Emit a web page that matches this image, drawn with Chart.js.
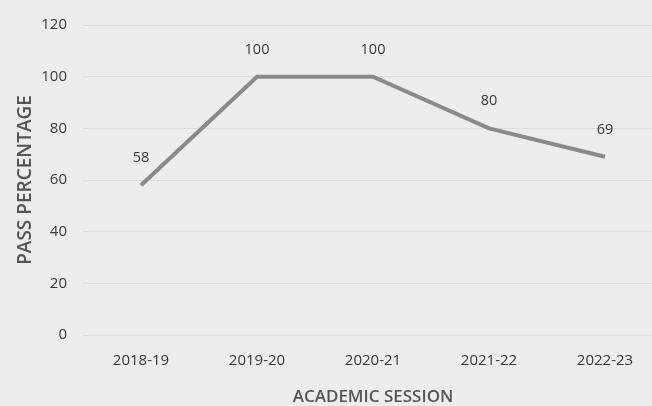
<!DOCTYPE html>
<html lang="en">
<head>
    <meta charset="UTF-8">
    <title>Pass percentage</title>
    <style>
        html, body { margin: 0; padding: 0; background: #ededed; overflow: hidden; }
        #wrap { width: 668px; height: 406px; }
    </style>
</head>
<body>
    <div id="wrap">
        <canvas id="myChart"></canvas>
    </div>

    <script src="https://cdn.jsdelivr.net/npm/chart.js"></script>
    <script>
        // data
        const sessions = ['2018-19', '2019-20', '2020-21', '2021-22', '2022-23'];
        const passPct = [58, 100, 100, 80, 69];
        const yTicks = [0, 20, 40, 60, 80, 100, 120];

        const textFont = "'Open Sans', 'Liberation Sans', sans-serif";

        // draw the value above each point
        const valueLabels = {
            id: 'valueLabels',
            afterDatasetsDraw(chart) {
                const c = chart.ctx;
                const meta = chart.getDatasetMeta(0);
                c.save();
                c.font = '14.5px ' + textFont;
                c.fillStyle = '#3a3a3a';
                c.textAlign = 'center';
                c.textBaseline = 'middle';
                meta.data.forEach(function(pt, i) {
                    c.fillText(passPct[i], pt.x, pt.y - 27);
                });
                c.restore();
            }
        };

        const ctx = document.getElementById('myChart');

        let chart = new Chart(ctx, {
            type: 'line',
            data: {
                labels: sessions,
                datasets: [{
                    label: 'Pass percentage',
                    data: passPct,
                    borderColor: '#8a8a8a',
                    borderWidth: 4,
                    pointRadius: 0,
                    tension: 0,
                    fill: false
                }]
            },
            options: {
                responsive: true,
                maintainAspectRatio: false,
                animation: false,
                layout: { padding: { top: 14, right: 5, left: 10, bottom: 0 } },
                plugins: {
                    legend: { display: false },
                    tooltip: { enabled: false }
                },
                scales: {
                    x: {
                        offset: true,
                        afterFit(axis) { axis.height = 71; },
                        grid: { display: false, drawTicks: false },
                        border: { display: false },
                        ticks: { color: '#3a3a3a', font: { family: textFont, size: 15 }, padding: 17 },
                        title: {
                            display: true,
                            text: 'ACADEMIC SESSION',
                            color: '#555555',
                            font: { family: textFont, size: 17, weight: '600' },
                            padding: { top: 0, bottom: -1 }
                        }
                    },
                    y: {
                        min: 0,
                        max: 120,
                        afterBuildTicks(axis) {
                            axis.ticks = yTicks.map(v => ({ value: v }));
                        },
                        afterFit(axis) { axis.width = 73; },
                        grid: { color: '#dcdcdc', lineWidth: 1, drawTicks: false },
                        border: { display: false },
                        ticks: { color: '#3a3a3a', font: { family: textFont, size: 15 }, padding: 16 },
                        title: {
                            display: true,
                            text: 'PASS PERCENTAGE',
                            color: '#555555',
                            font: { family: textFont, size: 19, weight: '600' },
                            padding: { top: 4, bottom: 0 }
                        }
                    }
                }
            },
            plugins: [valueLabels]
        });
    </script>
</body>
</html>
